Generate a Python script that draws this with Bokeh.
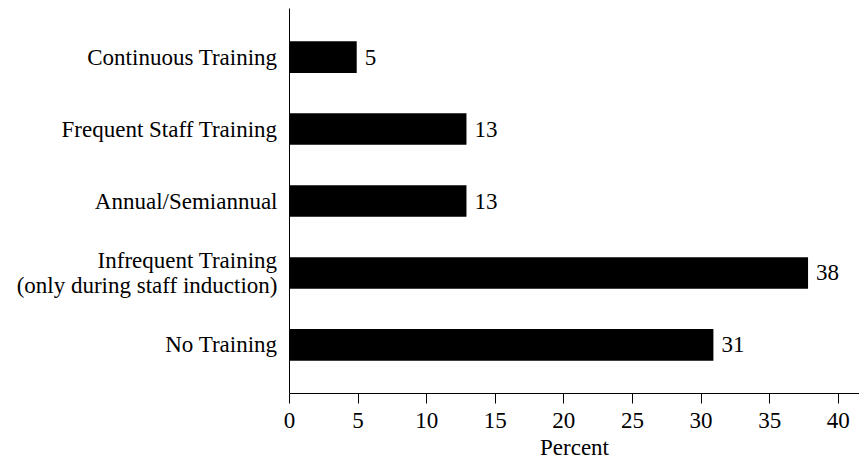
from bokeh.plotting import figure
from bokeh.models import ColumnDataSource, FactorRange, Range1d, FixedTicker, LabelSet
from bokeh.embed import file_html
from bokeh.resources import INLINE

categories = [
    "Continuous Training",
    "Frequent Staff Training",
    "Annual/Semiannual",
    "Infrequent Training\n(only during staff induction)",
    "No Training",
]
values = [4.9, 12.9, 12.9, 37.8, 30.9]
value_labels = ["5", "13", "13", "38", "31"]
x_ticks = [0, 5, 10, 15, 20, 25, 30, 35, 40]

FONT = "Liberation Serif"
FS = "23px"

src = ColumnDataSource(dict(cat=categories, val=values, lab=value_labels))

p = figure(
    width=859, height=465,
    y_range=FactorRange(*list(reversed(categories)), range_padding=0.07),
    x_range=Range1d(0, 41.55),
    output_backend="svg", toolbar_location=None,
    min_border_left=289, min_border_right=0, min_border_top=8, min_border_bottom=72,
)
p.hbar(y="cat", right="val", left=0, height=0.44, source=src,
       fill_color="black", line_color=None)

labels = LabelSet(x="val", y="cat", text="lab", source=src, x_offset=8,
                  text_baseline="middle", text_font=FONT, text_font_size=FS,
                  text_color="black")
p.add_layout(labels)

p.outline_line_color = None
p.xgrid.visible = False
p.ygrid.visible = False

xa = p.xaxis[0]
xa.ticker = FixedTicker(ticks=x_ticks)
xa.axis_label = "Percent"
xa.axis_label_text_font = FONT
xa.axis_label_text_font_size = FS
xa.axis_label_text_font_style = "normal"
xa.axis_label_text_color = "black"
xa.axis_label_standoff = 4
xa.major_label_text_font = FONT
xa.major_label_text_font_size = FS
xa.major_label_text_color = "black"
xa.major_label_standoff = 9
xa.major_tick_out = 10
xa.major_tick_in = 0
xa.minor_tick_out = 0
xa.minor_tick_in = 0
xa.axis_line_color = "black"
xa.major_tick_line_color = "black"

ya = p.yaxis[0]
ya.major_label_text_font = FONT
ya.major_label_text_font_size = FS
ya.major_label_text_color = "black"
ya.major_label_text_line_height = 1.0
ya.major_label_standoff = 12
ya.major_tick_out = 0
ya.major_tick_in = 0
ya.axis_line_color = "black"

open("out.html", "w").write(file_html(p, INLINE))
